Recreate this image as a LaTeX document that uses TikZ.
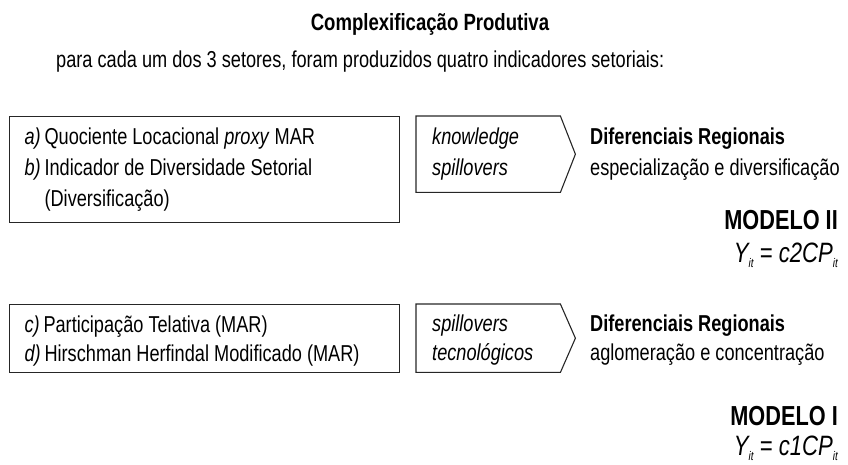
\documentclass[tikz,border=0pt]{standalone}
\usepackage{fontspec}
\setmainfont[FakeStretch=0.79]{Liberation Sans}
\usetikzlibrary{positioning}

\newcommand{\idx}[1]{\raisebox{-5pt}{\fontsize{12.5}{12.5}\selectfont\itshape #1}}

\begin{document}
\begin{tikzpicture}[x=1pt,y=-1pt]
            \tikzset{txt/.style = {inner sep=0pt, align=flush left, font=\fontsize{23}{31}\selectfont}}
            \tikzset{indbox/.style = {txt, draw=black!85, line width=1.1pt, anchor=north west, minimum width=390pt, text width=360pt, inner xsep=15pt}}
            \tikzset{spillbox/.style = {txt, anchor=north west, minimum width=142pt, text width=112pt, inner xsep=16pt}}
            \tikzset{spillline/.style = {draw=black!85, line width=1.1pt, line join=miter}}
            \tikzset{modelo/.style = {inner sep=0pt, anchor=base east, font=\fontsize{27.5}{27.5}\selectfont\bfseries}}
            \tikzset{eq/.style = {inner sep=0pt, anchor=base east, font=\fontsize{28}{28}\selectfont\itshape}}
            \useasboundingbox (0,0) rectangle (848,464);
            % titulo
            \node[txt, anchor=base, font=\fontsize{23.5}{24}\selectfont\bfseries] (titulo) at (430,30) {Complexificação Produtiva};
            \node[txt, anchor=base west] (intro) at (56,67) {para cada um dos 3 setores, foram produzidos quatro indicadores setoriais:};
            % indicadores
            \node[indbox, minimum height=106pt] (ab) at (9,116) {\textit{a)}\,Quociente Locacional \textit{proxy} MAR\\\textit{b)}\,Indicador de Diversidade Setorial\\\hspace*{20pt}(Diversificação)};
            \node[indbox, minimum height=68pt, font=\fontsize{23}{29}\selectfont] (cd) at (9,304) {\rule{0pt}{21pt}\textit{c)}\,Participação Telativa (MAR)\\\textit{d)}\,Hirschman Herfindal Modificado (MAR)};
            % spillovers
            \node[spillbox, minimum height=76pt] (know) at (416,116) {\textit{knowledge}\\\textit{spillovers}};
            \node[spillbox, minimum height=68pt, font=\fontsize{23}{29}\selectfont] (tecno) at (416,304) {\rule{0pt}{21pt}\textit{spillovers}\\\textit{tecnológicos}};
            \draw[spillline] (know.north west) -- (know.north east) -- ([xshift=15pt]know.east) -- (know.south east) -- (know.south west) -- cycle;
            \draw[spillline] (tecno.north west) -- (tecno.north east) -- ([xshift=15pt]tecno.east) -- (tecno.south east) -- (tecno.south west) -- cycle;
            % diferenciais
            \node[txt, anchor=west] (dif2) at (590,154) {\textbf{Diferenciais Regionais}\\especialização e diversificação};
            \node[txt, anchor=west, font=\fontsize{23}{29}\selectfont] (dif1) at (590,340) {\textbf{Diferenciais Regionais}\\aglomeração e concentração};
            % modelos
            \node[modelo] (mod2) at (838,229) {MODELO II};
            \node[eq] (eq2) at (838,262) {Y\idx{it} = c2CP\idx{it}};
            \node[modelo] (mod1) at (838,425) {MODELO I};
            \node[eq] (eq1) at (838,455) {Y\idx{it} = c1CP\idx{it}};
        \end{tikzpicture}
\end{document}
